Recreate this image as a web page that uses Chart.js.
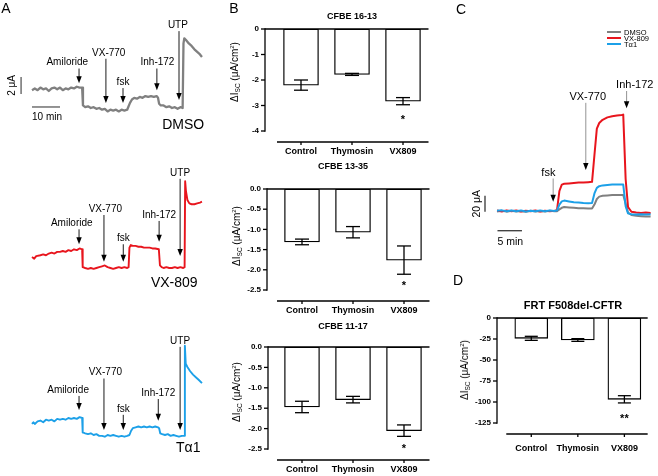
<!DOCTYPE html>
<html><head><meta charset="utf-8">
<script src="https://cdn.jsdelivr.net/npm/chart.js"></script>
<style>
html,body{margin:0;padding:0;background:#fff}
#root{position:relative;width:658px;height:476px;overflow:hidden;font-family:"Liberation Sans",Arial,Helvetica,sans-serif;color:#000}
canvas{position:absolute}
.t{position:absolute;line-height:1;white-space:nowrap;transform:translate(-50%,-50%)}
.pl{font-size:14px}
.ti{font-weight:bold;font-size:9px}
.yt{font-size:10px;transform:translate(-50%,-50%) rotate(-90deg)}
.sub{font-size:6.5px;position:relative;top:2px}
.sup{font-size:6px;position:relative;top:-4px}
</style></head>
<body><div id="root">
<canvas id="a1"></canvas><canvas id="a2"></canvas><canvas id="a3"></canvas>
<canvas id="b1"></canvas><canvas id="b2"></canvas><canvas id="b3"></canvas>
<canvas id="c1"></canvas><canvas id="d1"></canvas>
<div class="t pl" style="left:6px;top:8px">A</div>
<div class="t pl" style="left:234px;top:8px">B</div>
<div class="t pl" style="left:461px;top:9px">C</div>
<div class="t pl" style="left:458px;top:280px">D</div>
<div class="t ti" style="left:352px;top:16px">CFBE 16-13</div>
<div class="t ti" style="left:343px;top:166px">CFBE 13-35</div>
<div class="t ti" style="left:343px;top:326px">CFBE 11-17</div>
<div class="t ti" style="left:573px;top:305px;font-size:11px">FRT F508del-CFTR</div>
<div class="t yt" style="left:235px;top:72px">ΔI<span class="sub">SC</span> (μA/cm<span class="sup">2</span>)</div>
<div class="t yt" style="left:237px;top:236px">ΔI<span class="sub">SC</span> (μA/cm<span class="sup">2</span>)</div>
<div class="t yt" style="left:237px;top:392px">ΔI<span class="sub">SC</span> (μA/cm<span class="sup">2</span>)</div>
<div class="t yt" style="left:465px;top:370px">ΔI<span class="sub">SC</span> (μA/cm<span class="sup">2</span>)</div>
</div>
<script>
// ===================== DATA =====================
// Panel A: Isc traces (time in min, current in µA relative to post-amiloride level)
const aDmsoTime = [0,1,2,3,4,5,6,7,8,9,10,11,12,13,14,15,16,17,17.9,18.2,19,20,21,22,23,24,25,26,27,28,29,30,31,32,33,34,34.5,35,35.7,36.5,37.5,38.5,39.5,40.5,41.5,42.5,43.5,44.5,45,45.4,46,47,48,49,50,51,52,53,53.8,54.1,54.4,55,56,57,58,59,60,60.7];
const aDmsoCurrent = [2.1,2.3,2.1,2.4,2.2,2.3,2.0,2.3,2.4,2.2,2.4,2.1,2.3,2.2,2.4,2.3,2.5,2.4,2.4,0.3,0.1,0.2,0.0,0.1,-0.1,0.0,-0.2,-0.1,-0.4,-0.2,-0.3,-0.2,-0.4,-0.2,-0.3,-0.2,0.2,0.6,1.0,1.2,1.1,1.3,1.2,1.4,1.3,1.4,1.3,1.4,1.2,0.5,0.3,0.3,0.1,0.2,0.0,0.1,-0.1,0.1,0.0,7.6,8.2,8.0,7.6,7.3,6.9,6.6,6.3,6.0];
const aVx809Time = [0,0.8,1.5,3,4,5,6,7,8,9,10,11,12,13,14,15,16,17,17.9,18.1,19,20,21,22,23,24,25,26,27,28,29,30,31,32,33,34,34.5,34.8,35.3,36,37,38,39,40,41,42,43,44,45.3,45.7,46.3,47,48,49,50,51,52,53,54,54.5,54.7,55,55.5,56.2,57,58,59,60,60.7];
const aVx809Current = [1.3,1.1,1.4,1.5,1.6,1.5,1.7,1.8,1.7,1.9,1.9,2.0,1.9,2.1,2.0,2.2,2.1,2.3,2.2,0.1,0.0,-0.1,0.0,-0.1,0.0,0.1,0.2,0.3,0.1,0.0,-0.1,0.0,0.1,0.0,0.1,0.0,0.1,2.4,2.7,2.6,2.6,2.5,2.5,2.4,2.4,2.4,2.3,2.3,2.2,0.3,0.1,0.0,0.1,0.0,0.0,0.1,0.0,0.1,0.0,0.1,10.2,9.0,8.0,7.6,7.5,7.5,7.6,7.7,7.8];
const aTa1Time = [0,0.5,1,2,3,4,5,6,7,8,9,10,11,12,13,14,15,16,17,17.9,18.1,19,20,21,22,23,24,25,26,27,28,29,30,31,32,33,34,34.8,35.4,36,37,38,39,40,41,42,43,44,45,45.4,45.8,46.5,47.5,48.5,49.5,50.5,51.5,52.5,53.5,54.4,54.6,54.9,55.5,56.5,57.5,58.5,59.5,60.7];
const aTa1Current = [1.3,1.5,1.3,1.6,1.7,1.5,1.8,1.7,1.8,1.6,1.9,1.8,1.9,1.8,2.0,1.9,2.0,1.9,2.1,2.0,0.3,0.2,0.1,0.2,0.0,0.1,-0.1,-0.1,-0.2,0.0,-0.1,0.0,-0.1,-0.2,-0.1,-0.2,-0.1,0.0,0.5,0.8,0.9,1.0,0.9,1.0,0.9,1.0,0.9,1.0,0.9,0.8,0.2,0.1,0.0,0.1,-0.1,0.0,-0.1,-0.2,-0.1,-0.1,10.5,8.4,8.0,7.5,7.1,6.8,6.5,6.1];
const aEventLabels = ['Amiloride','VX-770','fsk','Inh-172','UTP'];
const aDmsoEventTimes = [16.8,26.4,32.5,44.6,52.5];
const aVx809EventTimes = [16.8,25.7,32.6,45.4,52.9];
const aTa1EventTimes = [16.8,25.7,32.6,45.1,52.9];

// Panel C: Isc traces (time in min, current in µA)
const cTime = [0,1,2,3,4,5,6,7,8,9,10,11,12,12.5,13,13.5,14,15,16,17,18,19,19.8,20.3,20.8,21.3,22,23,24,25,26,26.3,26.8,27.3,28,29,30,31,32];
const cDmso = [-0.5,0.3,-0.8,0.2,-0.6,0.1,-0.9,0.3,-0.7,0.0,-0.5,0.2,-0.3,-0.2,2,4,5,4.5,4,3.5,3.5,3,3,8,15,18,19,19.5,20,20,20,20,9,-2,-5,-6,-6.5,-7,-7];
const cVx809 = [0.5,-0.5,0.8,-0.3,0.6,-0.6,0.4,-0.4,0.7,-0.5,0.3,-0.2,0.2,1,25,33,34,34.5,35,35.5,35.5,36,36.5,70,103,110,114,117,118.5,119.5,120,120.5,40,5,-1,-2,-2.5,-2,-2.5];
const cTa1 = [0.3,0.8,-0.4,0.5,-0.2,0.7,-0.5,0.4,-0.3,0.6,-0.4,0.5,0.0,0.5,8,12,13,12,11,10.5,10,9.8,10,22,29,31,32,32.5,33,33,33,33,6,-3,-4,-4.5,-4,-4.5,-4];
const cSeriesNames = ['DMSO','VX-809','Tα1'];
const cEventLabels = ['fsk','VX-770','Inh-172'];
const cEventTimes = [11.7,18.5,27.0];

// Panels B and D: bar charts (mean ± SEM)
const barCategories = ['Control','Thymosin','VX809'];
const b1613Mean = [-2.2,-1.78,-2.83];
const b1613Sem = [0.2,0.04,0.14];
const b1613Ticks = [0,-1,-2,-3,-4];
const b1335Mean = [-1.31,-1.07,-1.76];
const b1335Sem = [0.07,0.14,0.35];
const b1335Ticks = [0,-0.5,-1,-1.5,-2,-2.5];
const b1117Mean = [-1.47,-1.29,-2.05];
const b1117Sem = [0.14,0.08,0.14];
const b1117Ticks = [0,-0.5,-1,-1.5,-2,-2.5];
const dFrtMean = [-24.2,-26.2,-96.8];
const dFrtSem = [2.4,1.6,4.3];
const dFrtTicks = [0,-25,-50,-75,-100,-125];
const bSignif = ['','','*'];
const dSignif = ['','','**'];

// ===================== STYLE / LAYOUT =====================
const FONT = '"Liberation Sans", Arial, sans-serif';
const GRAY = '#808080', RED = '#e8151d', BLUE = '#1ca0e8';

function place(cv, b){ cv.width=b.w; cv.height=b.h; cv.style.left=b.l+'px'; cv.style.top=b.t+'px'; cv.style.width=b.w+'px'; cv.style.height=b.h+'px'; }
function xy(ts, vs){ return ts.map((t,i)=>({x:t, y:vs[i]})); }

function arrow(ctx, x, y1, y2, color){
  ctx.save();
  ctx.strokeStyle = color; ctx.lineWidth = 0.9;
  ctx.beginPath(); ctx.moveTo(x, y1); ctx.lineTo(x, y2-5); ctx.stroke();
  ctx.fillStyle = '#000';
  ctx.beginPath(); ctx.moveTo(x-2.7, y2-7); ctx.lineTo(x+2.7, y2-7); ctx.lineTo(x, y2); ctx.closePath(); ctx.fill();
  ctx.restore();
}

const traceDecor = {
  id: 'tdecor',
  afterDatasetsDraw(chart, args, o){
    const ctx = chart.ctx, X = v=>chart.scales.x.getPixelForValue(v), Y = v=>chart.scales.y.getPixelForValue(v);
    ctx.save();
    ctx.fillStyle = '#000'; ctx.textAlign='center'; ctx.textBaseline='middle';
    o.events.forEach(ev=>{
      ctx.font = o.font;
      const x = X(ev.t);
      ctx.fillText(ev.text, X(ev.t + (ev.dt||0)), Y(ev.textV));
      arrow(ctx, x, Y(ev.textV)+6, Y(ev.tipV), o.arrowColor);
    });
    if (o.label){ ctx.font = o.label.font; ctx.fillText(o.label.text, X(o.label.t), Y(o.label.v)); }
    if (o.vbar){
      const b=o.vbar; ctx.strokeStyle=o.barColor; ctx.lineWidth=1.4;
      ctx.beginPath(); ctx.moveTo(X(b.t), Y(b.v0)); ctx.lineTo(X(b.t), Y(b.v1)); ctx.stroke();
      ctx.save(); ctx.translate(X(b.textT), Y((b.v0+b.v1)/2)); ctx.rotate(-Math.PI/2);
      ctx.font = o.barFont; ctx.fillText(b.text, 0, 0); ctx.restore();
    }
    if (o.hbar){
      const b=o.hbar; ctx.strokeStyle=o.barColor; ctx.lineWidth=1.4;
      ctx.beginPath(); ctx.moveTo(X(b.t0), Y(b.v)); ctx.lineTo(X(b.t1), Y(b.v)); ctx.stroke();
      ctx.font = o.barFont; ctx.textAlign='left'; ctx.fillText(b.text, X(b.t0), Y(b.textV)); ctx.textAlign='center';
    }
    if (o.legend){
      const L=o.legend; ctx.font=L.font; ctx.textAlign='left';
      chart.data.datasets.slice().sort((a,b)=>a.legendIndex-b.legendIndex).forEach((ds,i)=>{
        const y = L.y + i*L.dy;
        ctx.strokeStyle = ds.borderColor; ctx.lineWidth = 2;
        ctx.beginPath(); ctx.moveTo(L.x, y); ctx.lineTo(L.x+L.len, y); ctx.stroke();
        ctx.fillStyle='#000'; ctx.fillText(ds.label, L.x+L.len+3, y+0.5);
      });
    }
    ctx.restore();
  }
};

function traceChart(id, box, xO, xPpu, yO, yPpu, datasets, decor){
  const cv = document.getElementById(id); place(cv, box);
  return new Chart(cv, {
    type:'line',
    data:{datasets},
    options:{
      responsive:false, animation:false, devicePixelRatio:1,
      layout:{padding:0},
      plugins:{legend:{display:false}, tooltip:{enabled:false}, tdecor:decor},
      scales:{
        x:{type:'linear', display:false, min:-xO/xPpu, max:(box.w-xO)/xPpu},
        y:{type:'linear', display:false, min:-(box.h-yO)/yPpu, max:yO/yPpu}
      },
      elements:{point:{radius:0}, line:{tension:0, borderJoinStyle:'round'}}
    },
    plugins:[traceDecor]
  });
}
function evs(times, textV, tipV, dts){ return aEventLabels.map((s,i)=>({text:s, t:times[i], textV:textV[i], tipV:tipV[i], dt:dts[i]})); }

const aFont = '10px '+FONT, aBigFont = '14px '+FONT, aBarFont = '10px '+FONT;
traceChart('a1', {l:0,t:15,w:215,h:125}, 32, 2.8, 93, 8.5,
  [{data:xy(aDmsoTime,aDmsoCurrent), borderColor:GRAY, borderWidth:2.3}],
  {font:aFont, arrowColor:'#000', events:evs(aDmsoEventTimes,[5.35,6.5,3.05,5.35,9.75],[2.9,0.6,0.6,2.1,0.95],[-4.2,1,0,0.2,-0.4]),
   label:{text:'DMSO', t:54, v:-2.0, font:aBigFont},
   barColor:'#666', barFont:aBarFont,
   vbar:{t:-3.9, v0:1.65, v1:3.65, text:'2 μA', textT:-7.1},
   hbar:{t0:0, t1:10, v:0.12, text:'10 min', textV:-1.1}});
traceChart('a2', {l:0,t:160,w:215,h:140}, 32, 2.8, 108, 8.5,
  [{data:xy(aVx809Time,aVx809Current), borderColor:RED, borderWidth:1.9}],
  {font:aFont, arrowColor:'#000', events:evs(aVx809EventTimes,[5.26,6.94,3.5,6.24,11.2],[2.8,0.75,0.75,3.1,1.4],[-2.6,0.5,0,0,0]),
   label:{text:'VX-809', t:50.8, v:-1.8, font:aBigFont}});
traceChart('a3', {l:0,t:325,w:215,h:145}, 32, 2.8, 110, 8.5,
  [{data:xy(aTa1Time,aTa1Current), borderColor:BLUE, borderWidth:1.9}],
  {font:aFont, arrowColor:'#000', events:evs(aTa1EventTimes,[5.3,7.35,3.08,4.94,11.08],[2.94,0.59,0.59,1.69,0.6],[-3.9,0.5,0,0,0]),
   label:{text:'Tα1', t:55.8, v:-1.57, font:aBigFont}});

// Panel C
const cText = [48.1,142.7,157.5], cTip = [11.7,51.25,128.3], cDt = [-1,0.4,1.7];
traceChart('c1', {l:440,t:20,w:218,h:240}, 57, 4.8, 191, 0.8,
  [{label:cSeriesNames[2], legendIndex:2, order:0, data:xy(cTime,cTa1), borderColor:BLUE, borderWidth:2},
   {label:cSeriesNames[1], legendIndex:1, order:1, data:xy(cTime,cVx809), borderColor:RED, borderWidth:2},
   {label:cSeriesNames[0], legendIndex:0, order:2, data:xy(cTime,cDmso), borderColor:GRAY, borderWidth:2}],
  {font:'11px '+FONT, arrowColor:'#888',
   events:cEventLabels.map((s,i)=>({text:s, t:cEventTimes[i], textV:cText[i], tipV:cTip[i], dt:cDt[i]})),
   barColor:'#444', barFont:'10.5px '+FONT,
   vbar:{t:-2.5, v0:-1, v1:19, text:'20 μA', textT:-4.2},
   hbar:{t0:0.1, t1:5.2, v:-24.6, text:'5 min', textV:-39.4},
   legend:{x:167, y:12, dy:6, len:14, font:'7.5px '+FONT}});

// Bar charts
const barDecor = {
  id:'bdecor',
  afterDatasetsDraw(chart, args, o){
    const {ctx, chartArea:a} = chart, xs=chart.scales.x, ys=chart.scales.y;
    const Y = v=>ys.getPixelForValue(v);
    const ax = a.left - o.gap;
    const mean = chart.data.datasets[0].data;
    ctx.save(); ctx.strokeStyle='#000'; ctx.lineWidth=1.3; ctx.lineCap='butt';
    const ln=(x1,y1,x2,y2)=>{ctx.beginPath();ctx.moveTo(x1,y1);ctx.lineTo(x2,y2);ctx.stroke();};
    mean.forEach((m,i)=>{
      const x = xs.getPixelForValue(i), e=o.sem[i], c=o.capW/2;
      ln(x,Y(m+e),x,Y(m-e)); ln(x-c,Y(m+e),x+c,Y(m+e)); ln(x-c,Y(m-e),x+c,Y(m-e));
      if (o.sig[i]){ ctx.fillStyle='#000'; ctx.font='bold 11px '+FONT; ctx.textAlign='center'; ctx.textBaseline='alphabetic'; ctx.fillText(o.sig[i], x, Y(m-e)+o.sigOff+6); }
    });
    const y0=Y(0), yMin=Y(Math.min(...o.ticks));
    ln(ax, y0, a.right, y0);
    ln(ax, y0-0.65, ax, yMin+0.65);
    o.ticks.forEach(v=>ln(ax-4, Y(v), ax, Y(v)));
    const ly = a.bottom + o.lineOff;
    ln(xs.getPixelForValue(0)-o.lineStart, ly, a.right, ly);
    mean.forEach((m,i)=>{ const x=xs.getPixelForValue(i); ln(x, ly, x, ly+3); });
    ctx.restore();
  }
};
function barChart(id, L, mean, sem, sig, ticks, dec){
  const cv = document.getElementById(id); place(cv, L.box);
  const yW=40, xH=40;
  const pad = {left:L.areaL-L.box.l-yW, right:L.box.l+L.box.w-L.areaR, top:L.areaT-L.box.t, bottom:L.box.t+L.box.h-L.areaB-xH};
  return new Chart(cv, {
    type:'bar',
    data:{labels:barCategories, datasets:[{data:mean, backgroundColor:'#fff', borderColor:'#000', borderWidth:1.3, barThickness:L.barW, borderSkipped:false}]},
    options:{
      responsive:false, animation:false, devicePixelRatio:1, layout:{padding:pad},
      plugins:{legend:{display:false}, tooltip:{enabled:false},
        bdecor:{gap:L.areaL-L.yAxisX, sem, sig, ticks, capW:L.capW, sigOff:L.sigOff, lineOff:L.lineOff, lineStart:L.lineStart}},
      scales:{
        x:{type:'category', offset:true, grid:{display:false, drawTicks:false}, border:{display:false},
           ticks:{font:{family:FONT, size:9, weight:'bold'}, color:'#000', padding:L.labelY-L.areaB-5.4, maxRotation:0, autoSkip:false},
           afterFit:s=>{s.height=xH;}},
        y:{type:'linear', min:Math.min(...ticks), max:Math.max(...ticks), grid:{display:false, drawTicks:false}, border:{display:false},
           afterBuildTicks:s=>{s.ticks=ticks.map(v=>({value:v}));},
           ticks:{font:{family:FONT, size:8, weight:'bold'}, color:'#000', padding:L.areaL-L.yAxisX+6, callback:v=>Number(v).toFixed(dec)},
           afterFit:s=>{s.width=yW;}}
      }
    },
    plugins:[barDecor]
  });
}
barChart('b1', {box:{l:220,t:0,w:220,h:176}, areaL:275.5, areaR:428.5, areaT:29, areaB:131, yAxisX:265, labelY:152, lineOff:11, lineStart:24, barW:35, capW:14, sigOff:12}, b1613Mean, b1613Sem, bSignif, b1613Ticks, 0);
barChart('b2', {box:{l:220,t:160,w:220,h:176}, areaL:276.5, areaR:429.5, areaT:189, areaB:290, yAxisX:267, labelY:310.5, lineOff:11, lineStart:25, barW:35, capW:14, sigOff:9}, b1335Mean, b1335Sem, bSignif, b1335Ticks, 1);
barChart('b3', {box:{l:220,t:318,w:220,h:176}, areaL:276.5, areaR:429.5, areaT:347, areaB:449, yAxisX:268, labelY:470, lineOff:11, lineStart:25, barW:35, capW:14, sigOff:10}, b1117Mean, b1117Sem, bSignif, b1117Ticks, 1);
barChart('d1', {box:{l:440,t:290,w:218,h:186}, areaL:508, areaR:658, areaT:318, areaB:423, yAxisX:497, labelY:448.5, lineOff:11, lineStart:25, barW:33, capW:13, sigOff:13}, dFrtMean, dFrtSem, dSignif, dFrtTicks, 0);
</script>
</body></html>
